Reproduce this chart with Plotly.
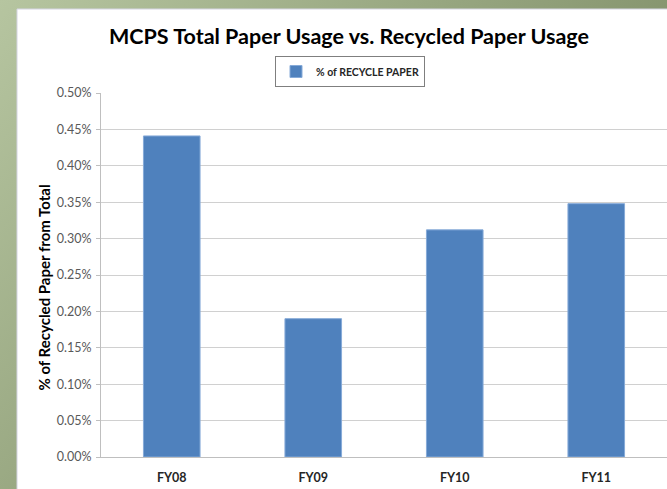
import base64
import plotly.graph_objects as go

categories = ["FY08", "FY09", "FY10", "FY11"]
recycle_pct = [0.00441, 0.00190, 0.00312, 0.00348]
series_name = "% of RECYCLE PAPER"
title_text = "MCPS Total Paper Usage vs. Recycled Paper Usage"
y_title = "% of Recycled Paper from Total"

W, H = 667, 489
L, R, T, B = 101, 0, 93, 32
pw, ph = W - L - R, H - T - B

def px_x(x):
    return (x - L) / pw

def px_y(y):
    return (H - B - y) / ph

svg = (
    "<svg xmlns='http://www.w3.org/2000/svg' width='667' height='489'>"
    "<defs><linearGradient id='g' x1='0' y1='0' x2='1' y2='0.6'>"
    "<stop offset='0' stop-color='#b6c5a0'/><stop offset='1' stop-color='#77865f'/>"
    "</linearGradient></defs><rect width='667' height='489' fill='url(#g)'/></svg>"
)
bg_src = "data:image/svg+xml;base64," + base64.b64encode(svg.encode()).decode()

fig = go.Figure()
fig.add_trace(go.Bar(
    x=categories, y=recycle_pct, name=series_name,
    marker=dict(color="#4F81BD", line=dict(color="#86aad8", width=1)),
    showlegend=True,
))

fig.update_layout(
    width=W, height=H,
    margin=dict(l=L, r=R, t=T, b=B, autoexpand=False),
    paper_bgcolor="#a3b38c",
    plot_bgcolor="white",
    bargap=0.6,
    font=dict(family="Lato, sans-serif", color="#404040"),
    title=dict(text=title_text, x=349 / W, xref="container", xanchor="center",
               y=1 - 36 / H, yref="container", yanchor="middle",
               font=dict(family="Lato, sans-serif", size=21.5, color="#000000", weight="bold")),
    showlegend=True,
    legend=dict(x=px_x(350), y=px_y(56), xanchor="center", yanchor="top",
                bgcolor="white", bordercolor="#7f7f7f", borderwidth=1,
                itemwidth=30,
                font=dict(family="Lato, sans-serif", size=10.5, color="#262626", weight="bold")),
    xaxis=dict(showgrid=False, showline=True, linecolor="#bfbfbf", linewidth=1,
               ticks="", ticklabelstandoff=9,
               tickfont=dict(family="Lato, sans-serif", size=12.5, color="#262626", weight="bold")),
    yaxis=dict(range=[0, 0.005], dtick=0.0005, tickformat=".2%",
               showgrid=True, gridcolor="#d0d0d0", gridwidth=1,
               showline=True, linecolor="#bfbfbf", linewidth=1,
               ticks="outside", ticklen=4, tickcolor="#bfbfbf", ticklabelstandoff=2,
               zeroline=False,
               tickfont=dict(family="Lato, sans-serif", size=12.5, color="#595959")),
    images=[dict(source=bg_src, xref="paper", yref="paper",
                 x=px_x(0), y=px_y(0), sizex=W / pw, sizey=H / ph,
                 xanchor="left", yanchor="top", sizing="stretch", layer="below")],
    shapes=[dict(type="rect", xref="paper", yref="paper",
                 x0=px_x(17), x1=px_x(W + 20), y0=px_y(H + 20), y1=px_y(9),
                 fillcolor="white", line=dict(color="#d4d4e2", width=1), layer="below")],
    annotations=[dict(text=y_title, xref="paper", yref="paper",
                      x=px_x(43), y=px_y(287.5), xanchor="center", yanchor="middle",
                      textangle=-90, showarrow=False,
                      font=dict(family="Lato, sans-serif", size=15, color="#000000", weight="bold"))],
)

fig.write_html("out.html", config={"displayModeBar": False},
               post_script="document.body.style.margin='0';document.body.style.overflow='hidden';")
